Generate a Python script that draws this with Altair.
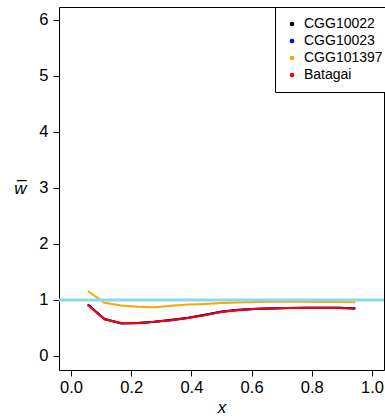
import altair as alt
import pandas as pd

x_vals = [k / 18 for k in range(1, 18)]
series_names = ["CGG10022", "CGG10023", "CGG101397", "Batagai"]
series_colors = ["#000000", "#0000FF", "#FFA500", "#FF0000"]

w_cgg10022 = [0.92, 0.66, 0.585, 0.59, 0.61, 0.645, 0.685, 0.735, 0.79, 0.82, 0.84, 0.85, 0.855, 0.86, 0.86, 0.86, 0.85]
w_cgg10023 = [0.92, 0.66, 0.58, 0.585, 0.61, 0.64, 0.68, 0.73, 0.795, 0.825, 0.845, 0.852, 0.858, 0.862, 0.862, 0.862, 0.852]
w_cgg101397 = [1.16, 0.95, 0.90, 0.88, 0.87, 0.895, 0.92, 0.93, 0.945, 0.955, 0.965, 0.97, 0.975, 0.97, 0.965, 0.965, 0.96]
w_batagai = [0.91, 0.655, 0.59, 0.59, 0.61, 0.64, 0.68, 0.725, 0.785, 0.815, 0.84, 0.85, 0.855, 0.855, 0.855, 0.855, 0.845]

ref_level = [1.0]

rows = []
for name, vals in zip(series_names, [w_cgg10022, w_cgg10023, w_cgg101397, w_batagai]):
    for xv, wv in zip(x_vals, vals):
        rows.append({"x": xv, "w": wv, "series": name, "order": series_names.index(name)})
df = pd.DataFrame(rows)
ref_df = pd.DataFrame({"w": ref_level})

FONT = "Liberation Sans"

xscale = alt.Scale(domain=[-0.04, 1.04], nice=False, zero=False)
yscale = alt.Scale(domain=[-0.25, 6.23], nice=False, zero=False)

lines = alt.Chart(df).mark_line(strokeWidth=2, clip=True).encode(
    x=alt.X("x:Q", scale=xscale,
            axis=alt.Axis(values=[0, 0.2, 0.4, 0.6, 0.8, 1.0], format=".1f",
                          title="x", titleFontStyle="italic", titleFontWeight="normal",
                          titleFontSize=17, titleFont=FONT, titleY=42,
                          titleBaseline="alphabetic",
                          labelFontSize=16.5, labelFont=FONT, labelColor="black",
                          tickSize=6, tickColor="black", labelPadding=3,
                          domain=False, grid=False)),
    y=alt.Y("w:Q", scale=yscale,
            axis=alt.Axis(values=[0, 1, 2, 3, 4, 5, 6], format="d",
                          title="w\u0305", titleAngle=0, titleFontStyle="italic",
                          titleFontWeight="normal", titleFontSize=17, titleFont=FONT,
                          titleX=-39, titleY=181, titleAlign="center", titleBaseline="middle",
                          labelFontSize=16.5, labelFont=FONT, labelColor="black",
                          tickSize=6, tickColor="black", labelPadding=5,
                          domain=False, grid=False)),
    color=alt.Color("series:N", scale=alt.Scale(domain=series_names, range=series_colors),
                    legend=alt.Legend(title=None, orient="none", legendX=216, legendY=0,
                                      symbolType="circle", symbolSize=5,
                                      symbolStrokeWidth=2.5,
                                      labelFontSize=14, labelFont=FONT, labelColor="black",
                                      padding=10, rowPadding=3, labelOffset=5,
                                      strokeColor="black", fillColor="white",
                                      cornerRadius=0)),
    order=alt.Order("order:Q"),
    detail="series:N",
)

ref = alt.Chart(ref_df).mark_rule(color="#8FD8EC", strokeWidth=3).encode(
    y=alt.Y("w:Q", scale=yscale),
)

chart = alt.layer(lines, ref).properties(
    width=325, height=363,
    padding={"left": 59, "top": 7, "right": 1, "bottom": 49},
    autosize=alt.AutoSizeParams(type="none"),
).configure_view(stroke="black", strokeWidth=1)

chart.save("out.html", embed_options={"renderer": "svg", "actions": False})
